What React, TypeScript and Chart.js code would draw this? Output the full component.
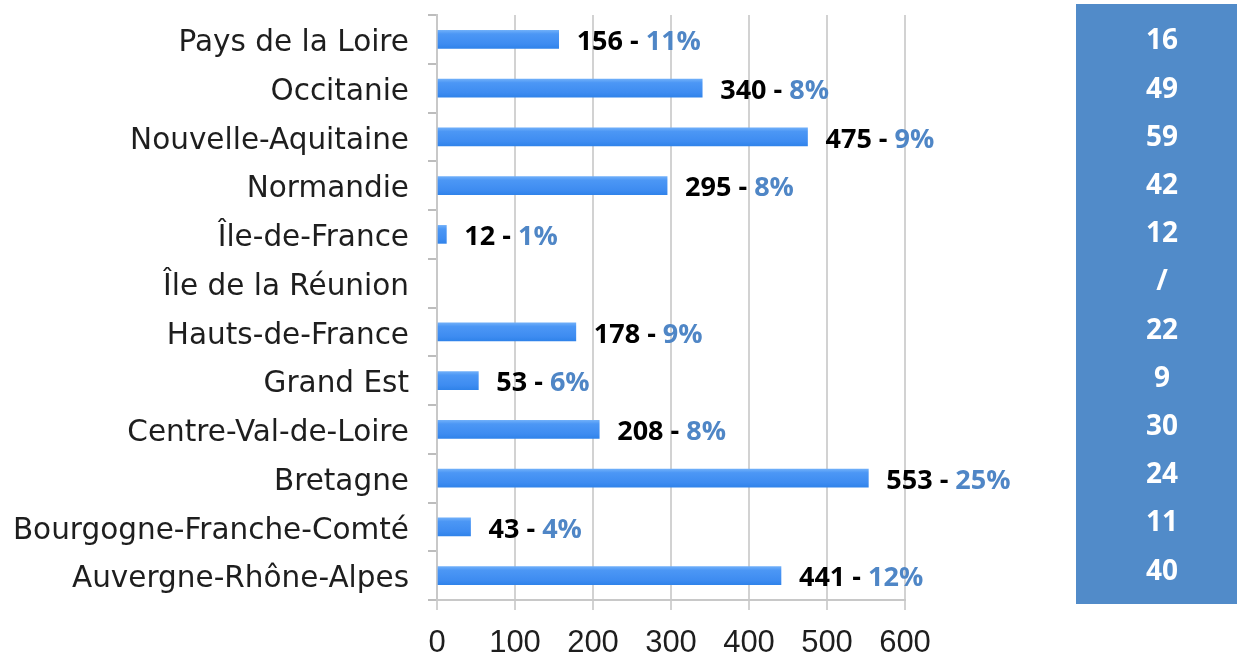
import React, { useEffect, useRef } from "react";
import { Chart, registerables } from "chart.js";

Chart.register(...registerables);

const categories = [
  "Pays de la Loire",
  "Occitanie",
  "Nouvelle-Aquitaine",
  "Normandie",
  "Île-de-France",
  "Île de la Réunion",
  "Hauts-de-France",
  "Grand Est",
  "Centre-Val-de-Loire",
  "Bretagne",
  "Bourgogne-Franche-Comté",
  "Auvergne-Rhône-Alpes",
];
const values: (number | null)[] = [156, 340, 475, 295, 12, null, 178, 53, 208, 553, 43, 441];
const percents: (string | null)[] = ["11%", "8%", "9%", "8%", "1%", null, "9%", "6%", "8%", "25%", "4%", "12%"];
const panelCounts = ["16", "49", "59", "42", "12", "/", "22", "9", "30", "24", "11", "40"];
const xTicks = [0, 100, 200, 300, 400, 500, 600];

const LABEL_FONT = "bold 27px 'Open Sans'";

const valueLabels = {
  id: "valueLabels",
  afterDatasetsDraw(chart: any) {
    const ctx = chart.ctx;
    const meta = chart.getDatasetMeta(0);
    ctx.save();
    ctx.font = LABEL_FONT;
    ctx.textBaseline = "middle";
    ctx.textAlign = "left";
    meta.data.forEach((bar: any, i: number) => {
      const v = values[i];
      if (v === null || v === undefined) return;
      let x = bar.x + 18;
      const y = bar.y + 3;
      const a = String(v);
      const b = " - ";
      const c = percents[i] || "";
      ctx.fillStyle = "#000000";
      ctx.fillText(a, x, y);
      x += ctx.measureText(a).width;
      ctx.fillText(b, x, y);
      x += ctx.measureText(b).width;
      ctx.fillStyle = "#4f86c6";
      ctx.fillText(c, x, y);
    });
    ctx.restore();
  },
};

const sidePanel = {
  id: "sidePanel",
  afterDraw(chart: any) {
    const ctx = chart.ctx;
    const area = chart.chartArea;
    const yScale = chart.scales.y;
    const left = chart.width - 161;
    ctx.save();
    ctx.fillStyle = "#518bc9";
    ctx.fillRect(left, area.top - 11, chart.width - left, area.bottom - area.top + 15);
    ctx.font = "bold 28px 'Open Sans'";
    ctx.fillStyle = "#ffffff";
    ctx.textAlign = "center";
    ctx.textBaseline = "middle";
    const y0 = yScale.getPixelForValue(0);
    panelCounts.forEach((t, i) => {
      const yp = yScale.getPixelForValue(i);
      const y = y0 + 2 + (yp - y0) * 0.989;
      ctx.fillText(t, left + 86, y);
    });
    ctx.restore();
  },
};

export default function App() {
  const ref = useRef<HTMLCanvasElement>(null);
  useEffect(() => {
    document.body.style.margin = "0";
    const canvas = ref.current!;
    const chart = new Chart(canvas, {
      type: "bar",
      data: {
        labels: categories,
        datasets: [
          {
            data: values as any,
            barThickness: 18,
            borderWidth: 0,
            backgroundColor: (c: any) => {
              const ys = c.chart.scales && c.chart.scales.y;
              if (!ys || c.dataIndex === undefined) return "#3f8cf0";
              const yc = ys.getPixelForValue(c.dataIndex);
              if (!Number.isFinite(yc)) return "#3f8cf0";
              const g = c.chart.ctx.createLinearGradient(0, yc - 9, 0, yc + 9);
              g.addColorStop(0, "#6eaef9");
              g.addColorStop(0.2, "#4c97f5");
              g.addColorStop(0.75, "#3e8cf1");
              g.addColorStop(1, "#3083ea");
              return g;
            },
          },
        ],
      },
      options: {
        indexAxis: "y",
        responsive: false,
        animation: false,
        events: [],
        layout: { padding: { top: 15, right: 332, left: 0, bottom: 0 } },
        plugins: {
          legend: { display: false },
          tooltip: { enabled: false },
          title: { display: false },
        },
        scales: {
          x: {
            type: "linear",
            min: 0,
            max: 600,
            afterBuildTicks: (axis: any) => {
              axis.ticks = xTicks.map((v) => ({ value: v }));
            },
            afterFit: (axis: any) => {
              axis.height = 58;
              axis.paddingLeft = 0;
              axis.paddingRight = 0;
            },
            grid: {
              color: "#d2d2d2",
              lineWidth: 2,
              tickLength: 10,
            },
            border: { display: true, color: "#c8c8c8", width: 2 },
            ticks: {
              padding: 15,
              color: "#1e1e1e",
              font: { family: "'Liberation Sans', Arial, sans-serif", size: 31 },
              maxRotation: 0,
            },
          },
          y: {
            type: "category",
            afterFit: (axis: any) => {
              axis.width = 437;
              axis.paddingTop = 0;
              axis.paddingBottom = 0;
            },
            grid: {
              display: true,
              drawOnChartArea: false,
              offset: true,
              color: "#bdbdbd",
              lineWidth: 2,
              tickLength: 9,
            },
            border: { display: true, color: "#c8c8c8", width: 2 },
            ticks: {
              padding: 19,
              labelOffset: 4,
              color: "#1e1e1e",
              autoSkip: false,
              font: { family: "'DejaVu Sans', sans-serif", size: 29.5 },
            },
          },
        },
      },
      plugins: [valueLabels, sidePanel],
    } as any);
    return () => chart.destroy();
  }, []);
  return (
    <div style={{ width: 1237, height: 658 }}>
      <canvas ref={ref} width={1237} height={658} style={{ display: "block" }} />
    </div>
  );
}
